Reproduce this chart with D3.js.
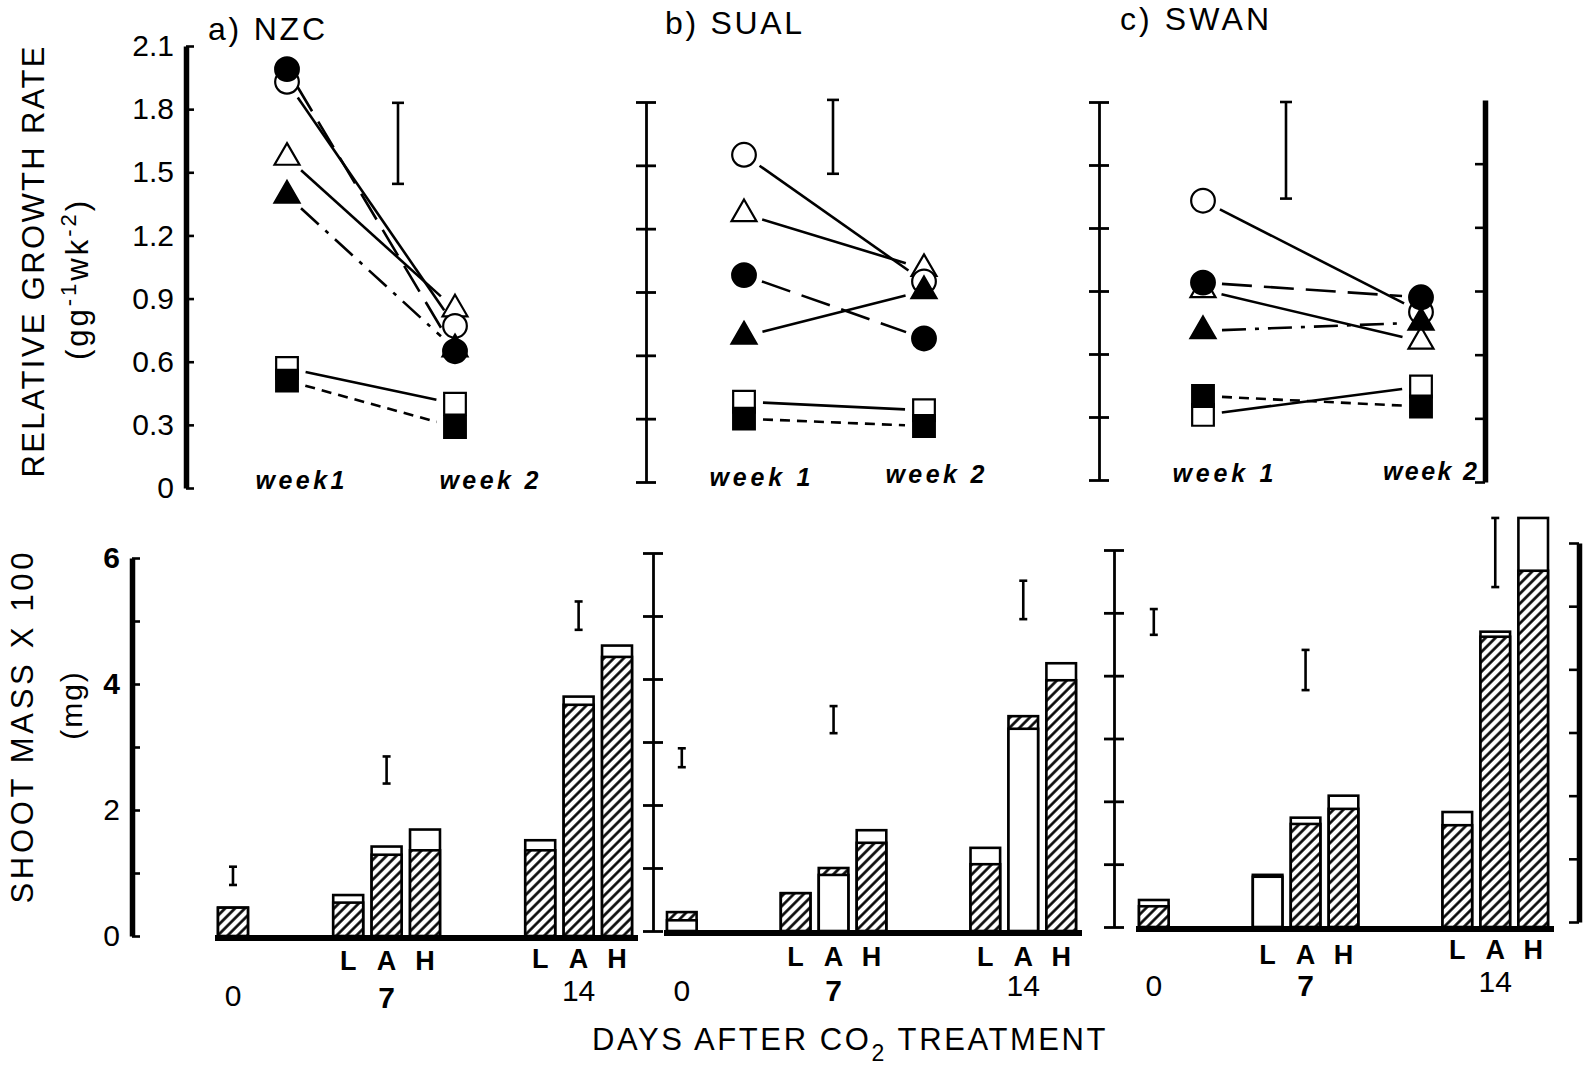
<!DOCTYPE html>
<html lang="en">
<head>
<meta charset="UTF-8">
<title>RGR and shoot mass after CO2 treatment</title>
<script src="https://d3js.org/d3.v7.min.js"></script>
<style>
  body { margin: 0; background: #fff; }
</style>
</head>
<body>
<svg width="1592" height="1072"></svg>
<script>
// ---- values ----
const weeks = ['week 1', 'week 2'];
const weekLabelsNZC = ['week1', 'week 2'];
const weekLabels = ['week 1', 'week 2'];
// drawing order of the symbols (later ones sit on top)
const markers = ['openTri', 'openCirc', 'fillTri', 'fillCirc', 'openSq', 'fillSq'];

const rgrNZC1  = [1.57, 1.93, 1.39, 1.99, 0.57, 0.51];
const rgrNZC2  = [0.85, 0.77, 0.66, 0.65, 0.40, 0.29];
const rgrSUAL1 = [1.27, 1.55, 0.69, 0.98, 0.38, 0.30];
const rgrSUAL2 = [1.01, 0.95, 0.905, 0.68, 0.34, 0.265];
const rgrSWAN1 = [0.905, 1.33, 0.71, 0.94, 0.31, 0.40];
const rgrSWAN2 = [0.66, 0.80, 0.75, 0.87, 0.445, 0.35];

const rgrErrNZC  = [1.445, 1.83];
const rgrErrSUAL = [1.46, 1.81];
const rgrErrSWAN = [1.34, 1.80];

const rgrTicks = [0, 0.3, 0.6, 0.9, 1.2, 1.5, 1.8, 2.1];

const barDays  = ['0', '7', '7', '7', '14', '14', '14'];
const barTreat = ['', 'L', 'A', 'H', 'L', 'A', 'H'];
const dayTicks = ['0', '7', '14'];

const massHatchNZC  = [0.45, 0.53, 1.29, 1.36, 1.36, 3.67, 4.43];
const massOpenNZC   = [0.45, 0.65, 1.42, 1.69, 1.52, 3.80, 4.61];
const massHatchSUAL = [0.30, 0.60, 1.00, 1.40, 1.06, 3.41, 3.98];
const massOpenSUAL  = [0.17, 0.60, 0.89, 1.60, 1.32, 3.21, 4.25];
const massHatchSWAN = [0.33, 0.83, 1.64, 1.88, 1.62, 4.62, 5.67];
const massOpenSWAN  = [0.43, 0.80, 1.74, 2.09, 1.83, 4.70, 6.51];

const massErrLoNZC  = [0.81, 2.42, 4.86];
const massErrHiNZC  = [1.10, 2.85, 5.31];
const massErrLoSUAL = [2.60, 3.14, 4.95];
const massErrHiSUAL = [2.90, 3.57, 5.56];
const massErrLoSWAN = [4.65, 3.77, 5.41];
const massErrHiSWAN = [5.06, 4.41, 6.51];

const massTicks = [0, 1, 2, 3, 4, 5, 6];

// ---- drawing ----
const FONT = '"Liberation Sans", Arial, Helvetica, sans-serif';
const svg = d3.select('svg').attr('font-family', FONT);
svg.append('rect').attr('width', 1592).attr('height', 1072).attr('fill', '#fff');

const defs = svg.append('defs');
const pat = defs.append('pattern').attr('id', 'hatch')
    .attr('patternUnits', 'userSpaceOnUse')
    .attr('width', 7).attr('height', 7)
    .attr('patternTransform', 'rotate(45)');
pat.append('rect').attr('width', 7).attr('height', 7).attr('fill', '#fff');
pat.append('line').attr('x1', 3.5).attr('x2', 3.5).attr('y1', 0).attr('y2', 7)
    .attr('stroke', '#000').attr('stroke-width', 2.6);

function thickAxis(x, scale, ticks, inward, fmt) {
    const ax = d3.axisLeft(scale).tickValues(ticks).tickSizeOuter(0)
        .tickSizeInner(inward ? -8 : 10).tickPadding(12)
        .tickFormat(fmt || (() => ''));
    const g = svg.append('g').attr('transform', `translate(${x},0)`).call(ax);
    g.select('.domain').attr('stroke', '#000').attr('stroke-width', 5.5);
    g.selectAll('.tick line').attr('stroke', '#000').attr('stroke-width', 2.6);
    g.selectAll('.tick text').attr('font-size', 30).attr('font-family', FONT).attr('fill', '#000');
    return g;
}

function crossAxis(x, scale, ticks) {
    const g = svg.append('g').attr('transform', `translate(${x},0)`)
        .call(d3.axisLeft(scale).tickValues(ticks).tickSizeInner(10).tickSizeOuter(0).tickFormat(() => ''));
    g.select('.domain').attr('stroke', '#000').attr('stroke-width', 2.8);
    g.selectAll('.tick line').attr('x1', 10).attr('stroke', '#000').attr('stroke-width', 2.8);
    return g;
}

function errBar(x, yLo, yHi, half) {
    const g = svg.append('g').attr('stroke', '#000').attr('stroke-width', 2.6);
    g.append('line').attr('x1', x).attr('x2', x).attr('y1', yLo).attr('y2', yHi);
    g.append('line').attr('x1', x - half).attr('x2', x + half).attr('y1', yLo).attr('y2', yLo);
    g.append('line').attr('x1', x - half).attr('x2', x + half).attr('y1', yHi).attr('y2', yHi);
}

// ---- top row: relative growth rate ----
const dashDefault = { openTri: null, openCirc: null, fillTri: '24,9,4,9', fillCirc: '30,12', openSq: null, fillSq: '10,7' };
const dashSUAL = Object.assign({}, dashDefault, { fillTri: null });

const symbolOf = {
    openTri:  { type: d3.symbolTriangle, size: 270, fill: '#fff' },
    openCirc: { type: d3.symbolCircle,   size: 440, fill: '#fff' },
    fillTri:  { type: d3.symbolTriangle, size: 270, fill: '#000' },
    fillCirc: { type: d3.symbolCircle,   size: 440, fill: '#000' },
    openSq:   { type: d3.symbolSquare,   size: 470, fill: '#fff' },
    fillSq:   { type: d3.symbolSquare,   size: 470, fill: '#000' }
};

const topPanels = [
    { title: 'a) NZC', tx: 208, ty: 40, tw: 117, v1: rgrNZC1, v2: rgrNZC2, err: rgrErrNZC,
      labels: weekLabelsNZC, x1: 287, x2: 455, y0: 488, yTop: 46, vTop: 2.1, errX: 398,
      lab: [[300, 489, 89], [489, 489, 99]], dash: dashDefault },
    { title: 'b) SUAL', tx: 665, ty: 34, tw: 137, v1: rgrSUAL1, v2: rgrSUAL2, err: rgrErrSUAL,
      labels: weekLabels, x1: 744, x2: 924, y0: 482, yTop: 102, vTop: 1.8, errX: 833,
      lab: [[760, 486, 101], [935, 483, 99]], dash: dashSUAL },
    { title: 'c) SWAN', tx: 1120, ty: 30, tw: 149, v1: rgrSWAN1, v2: rgrSWAN2, err: rgrErrSWAN,
      labels: weekLabels, x1: 1203, x2: 1421, y0: 480, yTop: 102, vTop: 1.8, errX: 1286,
      lab: [[1223, 482, 101], [1430, 480, 94]], dash: dashDefault }
];

topPanels.forEach((p, pi) => {
    const x = d3.scalePoint().domain(weeks).range([p.x1, p.x2]);
    const y = d3.scaleLinear().domain([0, p.vTop]).range([p.y0, p.yTop]);

    svg.append('text').attr('x', p.tx).attr('y', p.ty)
        .attr('font-size', 32).attr('textLength', p.tw).attr('lengthAdjust', 'spacing')
        .text(p.title);

    // connecting lines, trimmed back from the symbols
    markers.forEach((m, i) => {
        const ax = x(weeks[0]), ay = y(p.v1[i]), bx = x(weeks[1]), by = y(p.v2[i]);
        const len = Math.hypot(bx - ax, by - ay), ux = (bx - ax) / len, uy = (by - ay) / len;
        const trim = 19;
        svg.append('line')
            .attr('x1', ax + ux * trim).attr('y1', ay + uy * trim)
            .attr('x2', bx - ux * trim).attr('y2', by - uy * trim)
            .attr('stroke', '#000').attr('stroke-width', 2.6)
            .attr('stroke-dasharray', p.dash[m]);
    });

    [p.v1, p.v2].forEach((vals, w) => {
        svg.append('g').selectAll('path').data(markers).join('path')
            .attr('transform', (m, i) => `translate(${x(weeks[w])},${y(vals[i])})`)
            .attr('d', m => d3.symbol().type(symbolOf[m].type).size(symbolOf[m].size)())
            .attr('fill', m => symbolOf[m].fill)
            .attr('stroke', '#000').attr('stroke-width', 2.2);
    });

    errBar(p.errX, y(p.err[0]), y(p.err[1]), 6);

    p.labels.forEach((t, i) => {
        svg.append('text').attr('x', p.lab[i][0]).attr('y', p.lab[i][1])
            .attr('text-anchor', 'middle').attr('font-size', 25)
            .attr('font-weight', 'bold').attr('font-style', 'italic')
            .attr('textLength', p.lab[i][2]).attr('lengthAdjust', 'spacing')
            .text(t);
    });

    if (pi === 0) {
        thickAxis(186, y, rgrTicks, true, d => d === 0 ? '0' : d.toFixed(1));
    } else {
        crossAxis(pi === 1 ? 646 : 1099, y, rgrTicks.slice(0, 7));
    }
    if (pi === 2) {
        const yr = d3.scaleLinear().domain([0, 1.8]).range([482, 100]);
        thickAxis(1485, yr, rgrTicks.slice(0, 6), false);
    }
});

// ---- bottom row: shoot mass ----
const barKeys = barDays.map((d, i) => d + barTreat[i]);
const slotKeys = ['0', 's1', 's2', '7L', '7A', '7H', 's3', 's4', '14L', '14A', '14H'];
const errKeys = ['0', '7A', '14A'];

const botPanels = [
    { hatch: massHatchNZC, open: massOpenNZC, lo: massErrLoNZC, hi: massErrHiNZC,
      bx0: 218, bx1: 632, y0: 936, y6: 558, axisX: 132, lah: [970, 968], day: [1006, 1008, 1001] },
    { hatch: massHatchSUAL, open: massOpenSUAL, lo: massErrLoSUAL, hi: massErrHiSUAL,
      bx0: 667, bx1: 1076, y0: 931, y6: 553, axisX: 653, lah: [966, 966], day: [1001, 1001, 996] },
    { hatch: massHatchSWAN, open: massOpenSWAN, lo: massErrLoSWAN, hi: massErrHiSWAN,
      bx0: 1139, bx1: 1548, y0: 927, y6: 550, axisX: 1114, lah: [964, 959], day: [996, 996, 992] }
];

botPanels.forEach((p, pi) => {
    const x = d3.scaleBand().domain(slotKeys).range([p.bx0, p.bx1]).paddingInner(0.22).paddingOuter(0);
    const y = d3.scaleLinear().domain([0, 6]).range([p.y0, p.y6]);

    barKeys.forEach((k, i) => {
        const layers = [{ v: p.open[i], fill: '#fff' }, { v: p.hatch[i], fill: 'url(#hatch)' }]
            .sort((a, b) => b.v - a.v);
        svg.append('g').selectAll('rect').data(layers).join('rect')
            .attr('x', x(k)).attr('width', x.bandwidth())
            .attr('y', d => y(d.v)).attr('height', d => p.y0 - y(d.v))
            .attr('fill', d => d.fill)
            .attr('stroke', '#000').attr('stroke-width', 2.6);
    });

    svg.append('line').attr('x1', p.bx0 - 3).attr('x2', p.bx1 + 6)
        .attr('y1', p.y0 + 2).attr('y2', p.y0 + 2)
        .attr('stroke', '#000').attr('stroke-width', 6);

    errKeys.forEach((k, i) => {
        errBar(x(k) + x.bandwidth() / 2, y(p.lo[i]), y(p.hi[i]), 4);
    });

    barKeys.forEach((k, i) => {
        if (!barTreat[i]) return;
        svg.append('text').attr('x', x(k) + x.bandwidth() / 2)
            .attr('y', barDays[i] === '7' ? p.lah[0] : p.lah[1])
            .attr('text-anchor', 'middle').attr('font-size', 27).attr('font-weight', 'bold')
            .text(barTreat[i]);
    });

    dayTicks.forEach((t, i) => {
        svg.append('text').attr('x', x(errKeys[i]) + x.bandwidth() / 2).attr('y', p.day[i])
            .attr('text-anchor', 'middle').attr('font-size', 30)
            .attr('font-weight', t === '7' ? 'bold' : 'normal')
            .text(t);
    });

    if (pi === 0) {
        const g = thickAxis(p.axisX, y, massTicks, true, d => d % 2 === 0 ? String(d) : '');
        g.selectAll('.tick text').attr('font-weight', d => d >= 4 ? 'bold' : 'normal');
    } else {
        crossAxis(p.axisX, y, massTicks);
    }
    if (pi === 2) {
        const yr = d3.scaleLinear().domain([0, 6]).range([922, 543]);
        thickAxis(1579, yr, massTicks, false);
    }
});

// ---- axis titles ----
svg.append('text').attr('transform', 'translate(44,262) rotate(-90)')
    .attr('text-anchor', 'middle').attr('font-size', 31)
    .attr('textLength', 431).attr('lengthAdjust', 'spacing')
    .text('RELATIVE GROWTH RATE');

const yt2 = svg.append('text').attr('transform', 'translate(88,279) rotate(-90)')
    .attr('text-anchor', 'middle').attr('font-size', 31).attr('letter-spacing', 3);
yt2.append('tspan').text('(gg');
yt2.append('tspan').attr('dy', -12).attr('font-size', 22).text('-1');
yt2.append('tspan').attr('dy', 12).text('wk');
yt2.append('tspan').attr('dy', -12).attr('font-size', 22).text('-2');
yt2.append('tspan').attr('dy', 12).text(')');

svg.append('text').attr('transform', 'translate(33,728) rotate(-90)')
    .attr('text-anchor', 'middle').attr('font-size', 31)
    .attr('textLength', 351).attr('lengthAdjust', 'spacing')
    .text('SHOOT MASS X 100');

svg.append('text').attr('transform', 'translate(82,705) rotate(-90)')
    .attr('text-anchor', 'middle').attr('font-size', 30).attr('letter-spacing', 2)
    .text('(mg)');

const xt = svg.append('text').attr('x', 592).attr('y', 1050)
    .attr('font-size', 31).attr('letter-spacing', 2.6);
xt.append('tspan').text('DAYS AFTER CO');
xt.append('tspan').attr('dy', 11).attr('font-size', 23).text('2');
xt.append('tspan').attr('dy', -11).text(' TREATMENT');
</script>
</body>
</html>
